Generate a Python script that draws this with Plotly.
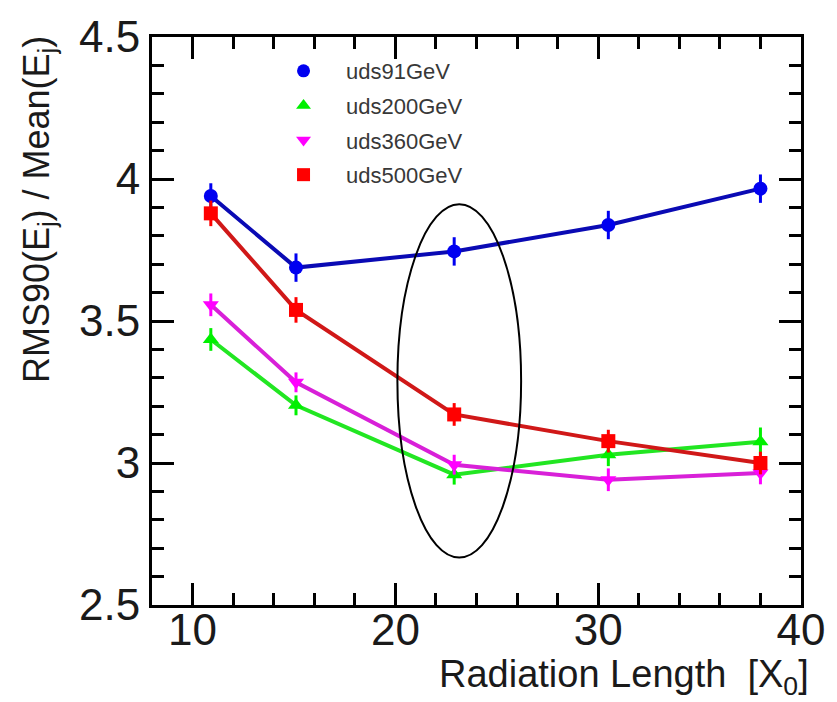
import plotly.graph_objects as go

# Radiation length of the calorimeter (in X0) for each configuration
radiation_length = [10.9, 15.1, 22.9, 30.5, 38.0]

# Jet energy resolution RMS90(Ej)/Mean(Ej) in percent, per sample
series_names = ["uds91GeV", "uds200GeV", "uds360GeV", "uds500GeV"]
res_91 = [3.94, 3.688, 3.745, 3.838, 3.966]
res_200 = [3.435, 3.203, 2.959, 3.029, 3.075]
res_360 = [3.557, 3.284, 2.994, 2.941, 2.965]
res_500 = [3.879, 3.539, 3.171, 3.077, 3.000]

err_91 = [0.045, 0.05, 0.05, 0.05, 0.05]
err_200 = [0.04, 0.035, 0.035, 0.04, 0.05]
err_360 = [0.04, 0.035, 0.035, 0.04, 0.04]
err_500 = [0.045, 0.045, 0.04, 0.04, 0.04]

# Highlighted region around the chosen configuration
ellipse_x = [20.1, 26.2]
ellipse_y = [2.667, 3.911]

x_ticks = [10, 20, 30, 40]
y_ticks = [2.5, 3, 3.5, 4, 4.5]

styles = [
    dict(values=res_91, err=err_91, line="#0a0ab4", marker="#0000f0", symbol="circle"),
    dict(values=res_200, err=err_200, line="#22e622", marker="#00f000", symbol="triangle-up"),
    dict(values=res_360, err=err_360, line="#d820d8", marker="#ff00ff", symbol="triangle-down"),
    dict(values=res_500, err=err_500, line="#d01818", marker="#ff0000", symbol="square"),
]

FONT = "Liberation Sans, Arial, sans-serif"

fig = go.Figure()
for name, st in zip(series_names, styles):
    fig.add_trace(go.Scatter(
        x=radiation_length, y=st["values"], mode="lines+markers", name=name,
        showlegend=False,
        line=dict(color=st["line"], width=4),
        marker=dict(color=st["marker"], symbol=st["symbol"], size=14),
        error_y=dict(type="data", array=st["err"], color=st["marker"],
                     thickness=3, width=0),
    ))

# Legend entries show the marker only
for name, st in zip(series_names, styles):
    fig.add_trace(go.Scatter(
        x=[None], y=[None], mode="markers", name=name, legendgroup=name,
        marker=dict(color=st["marker"], symbol=st["symbol"], size=13),
    ))

fig.add_shape(type="circle", xref="x", yref="y",
              x0=ellipse_x[0], x1=ellipse_x[1], y0=ellipse_y[0], y1=ellipse_y[1],
              line=dict(color="black", width=2))

axis_common = dict(
    showline=True, linecolor="black", linewidth=3, mirror="allticks",
    ticks="inside", ticklen=22, tickwidth=3, tickcolor="black",
    showgrid=False, zeroline=False,
    tickfont=dict(family=FONT, size=44, color="#1a1a1a"),
)

fig.update_xaxes(range=[8, 40], tickvals=x_ticks, ticklabelstandoff=-16,
                 minor=dict(ticks="inside", ticklen=12, tickwidth=3,
                            tickcolor="black", dtick=2, tick0=0),
                 **axis_common)
fig.update_yaxes(range=[2.5, 4.5], tickvals=y_ticks, ticklabelstandoff=0,
                 ticktext=[str(v) for v in y_ticks],
                 minor=dict(ticks="inside", ticklen=12, tickwidth=3,
                            tickcolor="black", dtick=0.1, tick0=0),
                 **axis_common)

fig.add_annotation(text="Radiation Length  [X<sub>0</sub>]", xref="paper", yref="paper",
                   x=1.015, y=-0.126, xanchor="right", yanchor="middle", showarrow=False,
                   font=dict(family=FONT, size=38, color="#1a1a1a"))
fig.add_annotation(text="RMS90(E<sub>j</sub>) / Mean(E<sub>j</sub>)", xref="paper", yref="paper",
                   x=-0.175, y=1.005, xanchor="center", yanchor="top", textangle=-90,
                   showarrow=False,
                   font=dict(family=FONT, size=36, color="#1a1a1a"))

fig.update_layout(
    width=837, height=702,
    margin=dict(l=152, r=27, t=31, b=97),
    paper_bgcolor="white", plot_bgcolor="white",
    legend=dict(x=0.168, y=0.977, xanchor="left", yanchor="top", itemwidth=75,
                bgcolor="rgba(0,0,0,0)", tracegroupgap=3,
                font=dict(family=FONT, size=22, color="#383838")),
)

fig.write_html("out.html")
